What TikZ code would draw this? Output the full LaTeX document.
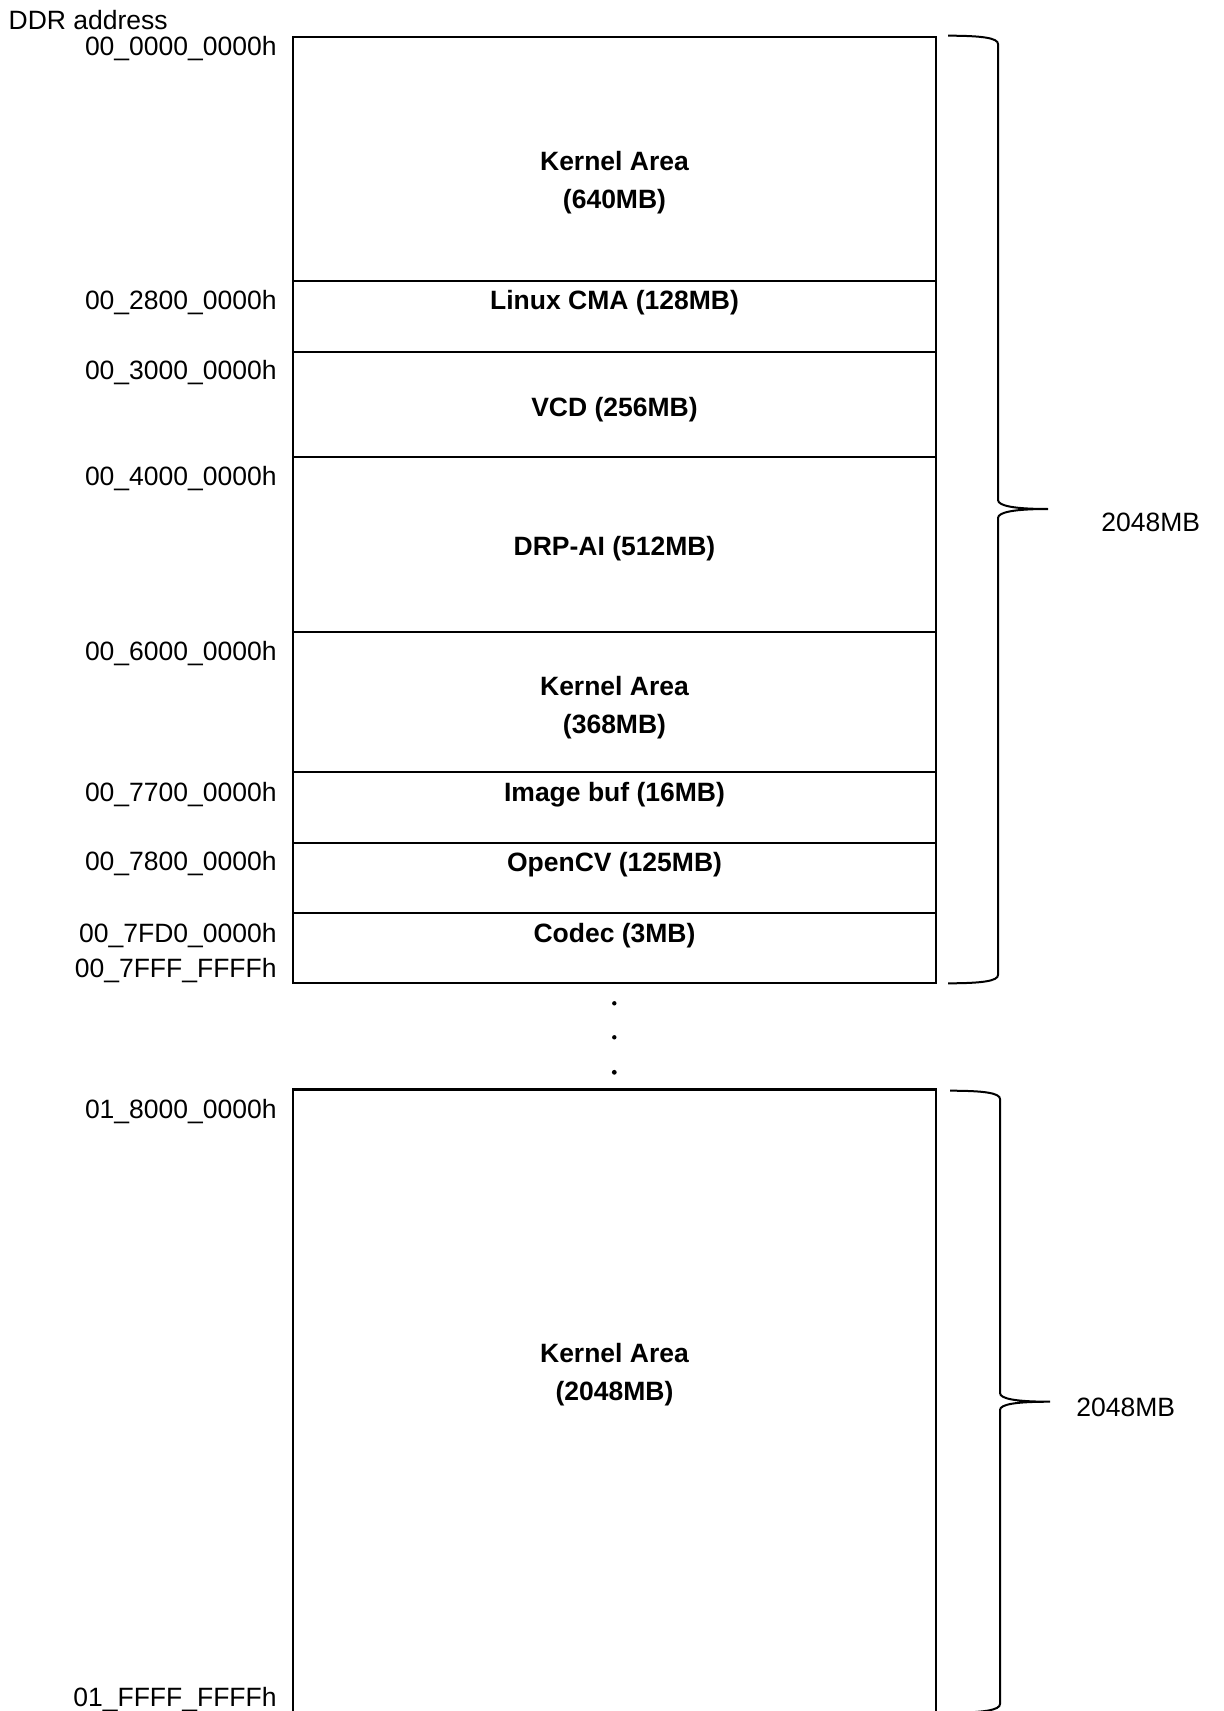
\documentclass[tikz,border=0pt]{standalone}
\usepackage{fontspec}
\setmainfont{Liberation Sans}
\begin{document}
\begin{tikzpicture}[x=0.5pt,y=-0.5pt,
  addr/.style={anchor=base east, inner sep=0pt, font=\fontsize{13.25}{16}\selectfont},
  plain/.style={anchor=base west, inner sep=0pt, font=\fontsize{13.25}{16}\selectfont},
  lbl/.style={anchor=base, inner sep=0pt, font=\fontsize{13.25}{19}\selectfont\bfseries, align=center},
  lbltwo/.style={anchor=north, inner sep=0pt, font=\fontsize{13.25}{19}\selectfont\bfseries, align=center},
  boxline/.style={line width=1.15pt, line join=miter},
  bracepath/.style={line width=1pt},
  dotmark/.style={fill=black}]
\useasboundingbox (0,0) rectangle (1224,1711);
\fill[white] (0,0) rectangle (1224,1711);

% upper memory block
\coordinate (ul) at (293,37.3);
\coordinate (lr) at (936,983.3);
\draw[boxline] (ul) rectangle (lr);
\foreach \y in {280.7,351.7,456.7,631.7,772.3,842.7,912.7}
  \draw[boxline] (293,\y) -- (936,\y);

% lower memory block
\coordinate (lul) at (293,1089.5);
\coordinate (lur) at (936,1089.5);
\draw[boxline] (293,1725) -- (lul) -- (lur) -- (936,1725);

% title and addresses
\node[plain] (title) at (8.3,29.3) {DDR address};
\node[addr] (a0) at (277,56) {00\_0000\_0000h};
\node[addr] (a1) at (277,310) {00\_2800\_0000h};
\node[addr] (a2) at (277,380) {00\_3000\_0000h};
\node[addr] (a3) at (277,486) {00\_4000\_0000h};
\node[addr] (a4) at (277,660) {00\_6000\_0000h};
\node[addr] (a5) at (277,801) {00\_7700\_0000h};
\node[addr] (a6) at (277,870.7) {00\_7800\_0000h};
\node[addr] (a7) at (277,942) {00\_7FD0\_0000h};
\node[addr] (a8) at (277,977) {00\_7FFF\_FFFFh};
\node[addr] (a9) at (277,1118.3) {01\_8000\_0000h};
\node[addr] (a10) at (277,1706) {01\_FFFF\_FFFFh};

% region labels
\node[lbltwo] (k1) at (614.5,151) {Kernel Area\\(640MB)};
\node[lbl] (cma) at (614.5,310) {Linux CMA (128MB)};
\node[lbl] (vcd) at (614.5,416) {VCD (256MB)};
\node[lbl] (drp) at (614.5,555.5) {DRP-AI (512MB)};
\node[lbltwo] (k2) at (614.5,675.4) {Kernel Area\\(368MB)};
\node[lbl] (img) at (614.5,801) {Image buf (16MB)};
\node[lbl] (cv) at (614.5,871) {OpenCV (125MB)};
\node[lbl] (codec) at (614.5,942) {Codec (3MB)};
\node[lbltwo] (k3) at (614.5,1342.4) {Kernel Area\\(2048MB)};

% dots
\fill[dotmark] (614.3,1003.3) circle (1.1pt);
\fill[dotmark] (614.3,1037.3) circle (1.1pt);
\fill[dotmark] (614.3,1072.3) circle (1.2pt);

% braces
\draw[bracepath] (948,35.7) .. controls (982,35.7) and (998,38) .. (998,44)
  -- (998,500) .. controls (998,506) and (1015,509) .. (1048,509)
  .. controls (1015,509) and (998,512) .. (998,518)
  -- (998,975) .. controls (998,981) and (982,983.3) .. (948,983.3);
\draw[bracepath] (950,1090.7) .. controls (984,1090.7) and (1000,1093) .. (1000,1099)
  -- (1000,1393) .. controls (1000,1399) and (1017,1401.7) .. (1050,1401.7)
  .. controls (1017,1401.7) and (1000,1404) .. (1000,1410)
  -- (1000,1704) .. controls (1000,1710) and (984,1712.7) .. (950,1712.7);

\node[plain] (mb1) at (1101,531) {2048MB};
\node[plain] (mb2) at (1076,1416) {2048MB};
\end{tikzpicture}
\end{document}
